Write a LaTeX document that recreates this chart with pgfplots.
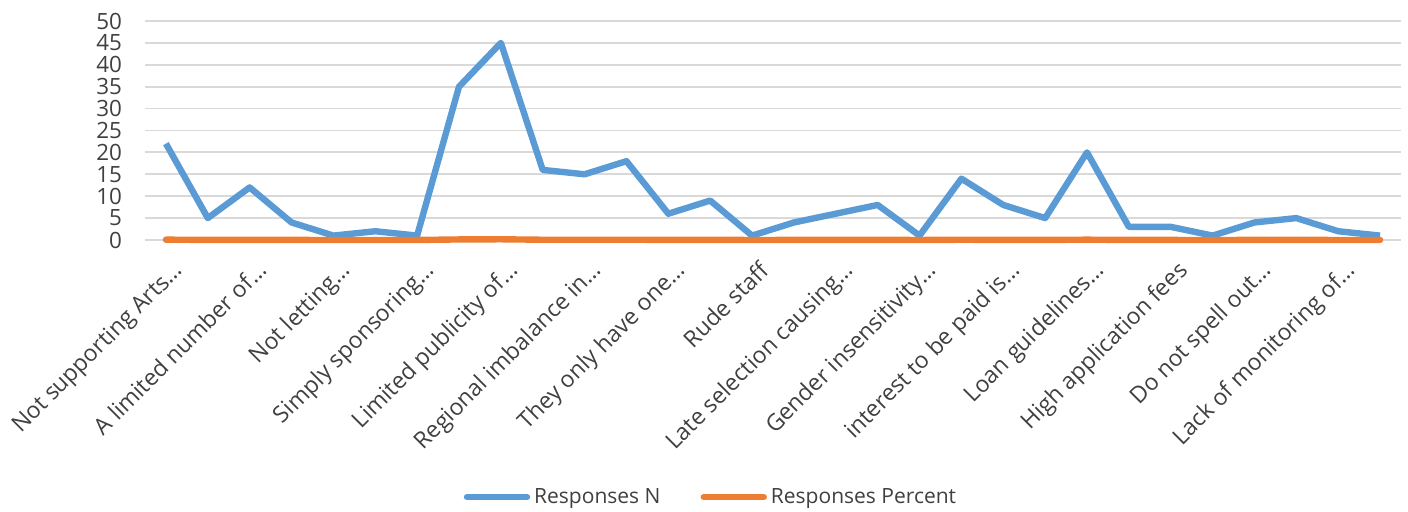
\documentclass[border=0pt]{standalone}
\usepackage{fontspec}
\setmainfont{Open Sans}
\usepackage{pgfplots}
\pgfplotsset{compat=1.18}

\definecolor{serN}{HTML}{5B9BD5}
\definecolor{serP}{HTML}{ED7D31}
\definecolor{gridc}{HTML}{D9D9D9}
\definecolor{txt}{HTML}{404040}

\begin{document}
\begin{tikzpicture}
\begin{axis}[
    at={(72.5pt,136pt)}, anchor=south west,
    scale only axis,
    width=628pt, height=109.5pt,
    xmin=-0.5, xmax=29.5,
    ymin=0, ymax=50,
    clip=false,
    ytick={0,5,...,50},
    xtick={0,2,...,28},
    xticklabels={Not supporting Arts…,A limited number of…,Not letting…,Simply sponsoring…,Limited publicity of…,Regional imbalance in…,They only have one…,Rude staff,Late selection causing…,Gender insensitivity…,interest to be paid is…,Loan guidelines…,High application fees,Do not spell out…,Lack of monitoring of…},
    axis line style={draw=none},
    major tick length=0pt,
    ymajorgrids,
    grid style={gridc, line width=0.9pt},
    /pgf/number format/assume math mode=true,
    yticklabel style={font=\fontsize{11.2}{12}\selectfont, text=txt, xshift=-8pt},
    xticklabel style={font=\fontsize{11.5}{13}\selectfont, text=txt,
        rotate=45, anchor=north east, inner sep=1pt, xshift=-3.75pt, yshift=-7.75pt},
    legend style={at={(0.4514,-1.174)}, anchor=center, draw=none,
        legend columns=-1, font=\fontsize{10.5}{12}\selectfont, text=txt,
        /tikz/every even column/.append style={column sep=18pt}},
    legend image code/.code={\draw[#1, line cap=round] (0pt,0pt) -- (30pt,0pt);},
]
\addplot[serN, line width=3.2pt, line join=round] coordinates {
(0,22) (1,5) (2,12) (3,4) (4,1) (5,2) (6,1) (7,35) (8,45) (9,16)
(10,15) (11,18) (12,6) (13,9) (14,1) (15,4) (16,6) (17,8) (18,1) (19,14)
(20,8) (21,5) (22,20) (23,3) (24,3) (25,1) (26,4) (27,5) (28,2) (29,1)};
\addlegendentry{Responses N}
\addplot[serP, line width=3.2pt, line join=round, line cap=round] coordinates {
(0,0.079) (1,0.018) (2,0.043) (3,0.014) (4,0.004) (5,0.007) (6,0.004) (7,0.126) (8,0.162) (9,0.058)
(10,0.054) (11,0.065) (12,0.022) (13,0.032) (14,0.004) (15,0.014) (16,0.022) (17,0.029) (18,0.004) (19,0.051)
(20,0.029) (21,0.018) (22,0.072) (23,0.011) (24,0.011) (25,0.004) (26,0.014) (27,0.018) (28,0.007) (29,0.004)};
\addlegendentry{Responses Percent}
\end{axis}
\pgfresetboundingbox
\useasboundingbox (0,0) rectangle (704pt,256pt);
\end{tikzpicture}
\end{document}
